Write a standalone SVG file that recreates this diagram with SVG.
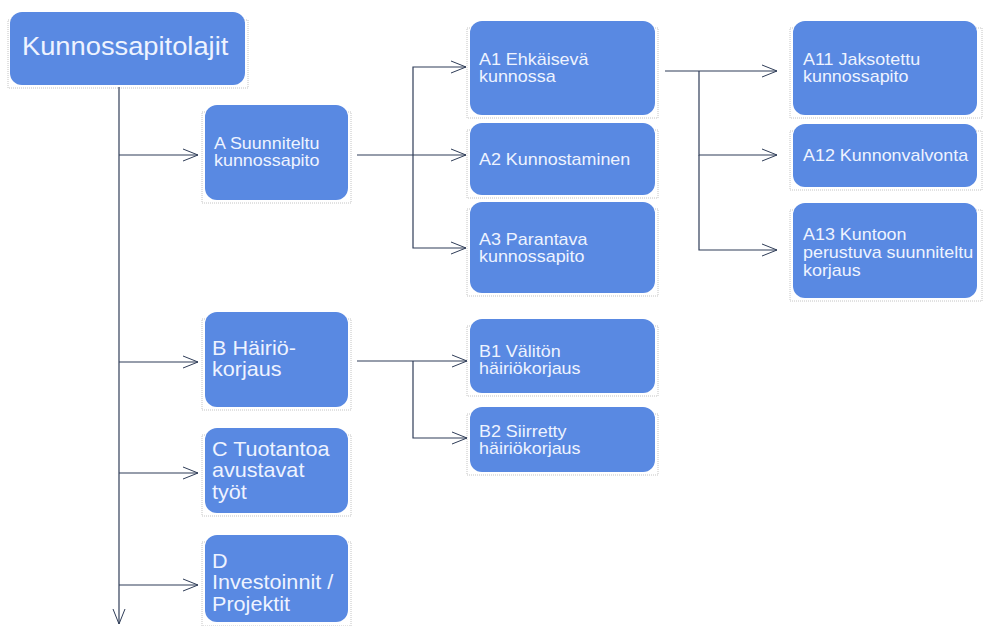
<svg xmlns="http://www.w3.org/2000/svg" width="985" height="626" viewBox="0 0 985 626">
<defs>
<marker id="arr" markerUnits="userSpaceOnUse" markerWidth="18" markerHeight="14" refX="15" refY="6" orient="auto" overflow="visible">
<path d="M0,0 L15,6 L0,12" fill="none" stroke="#2f3d58" stroke-width="1"/>
</marker>
</defs>
<style>
.box{fill:#5989e2;}
.frame{fill:none;stroke:#c4c4c4;stroke-width:1;stroke-dasharray:1 1;}
.t{fill:#eef3ff;font-family:"Liberation Sans",Arial,sans-serif;}
.s{font-size:16px;}
.m{font-size:20px;}
.l{font-size:26px;}
.c{fill:none;stroke:#2f3d58;stroke-width:1.2;}
</style>
<rect width="985" height="626" fill="#ffffff"/>
<g id="frames">
<rect class="frame" x="8" y="20" width="240" height="68"/>
<rect class="frame" x="202" y="112" width="149" height="91"/>
<rect class="frame" x="467" y="28" width="191" height="90"/>
<rect class="frame" x="467" y="130" width="191" height="68"/>
<rect class="frame" x="467" y="209" width="191" height="87"/>
<rect class="frame" x="790" y="28" width="192" height="90"/>
<rect class="frame" x="790" y="131" width="192" height="59"/>
<rect class="frame" x="790" y="210" width="192" height="91"/>
<rect class="frame" x="202" y="319" width="149" height="91"/>
<rect class="frame" x="202" y="435" width="149" height="81"/>
<rect class="frame" x="202" y="542" width="149" height="84"/>
<rect class="frame" x="467" y="326" width="191" height="70"/>
<rect class="frame" x="467" y="414" width="191" height="61"/>
</g>
<g id="connectors">
<path class="c" d="M119,87 V624" marker-end="url(#arr)"/>
<path class="c" d="M119,155 H198" marker-end="url(#arr)"/>
<path class="c" d="M119,362 H198" marker-end="url(#arr)"/>
<path class="c" d="M119,473 H198" marker-end="url(#arr)"/>
<path class="c" d="M119,585 H198" marker-end="url(#arr)"/>
<path class="c" d="M357,155 H466" marker-end="url(#arr)"/>
<path class="c" d="M413,155 V67 H466" marker-end="url(#arr)"/>
<path class="c" d="M413,155 V248 H466" marker-end="url(#arr)"/>
<path class="c" d="M665,71 H777" marker-end="url(#arr)"/>
<path class="c" d="M699,71 V155 H777" marker-end="url(#arr)"/>
<path class="c" d="M699,155 V250 H777" marker-end="url(#arr)"/>
<path class="c" d="M357,361 H467" marker-end="url(#arr)"/>
<path class="c" d="M413,361 V438 H467" marker-end="url(#arr)"/>
</g>
<g id="root">
<rect class="box" x="10" y="12" width="235" height="73" rx="12"/>
<g transform="translate(22,0) scale(1.05,1)"><text class="t l" x="0" y="55">Kunnossapitolajit</text></g>
</g>
<g id="A">
<rect class="box" x="205" y="105" width="143" height="95" rx="12"/>
<g transform="translate(214,0) scale(1.12,1)">
<text class="t s" x="0" y="149">A Suunniteltu</text>
<text class="t s" x="0" y="166.5">kunnossapito</text>
</g>
</g>
<g id="A1">
<rect class="box" x="470" y="21" width="185" height="94" rx="12"/>
<g transform="translate(479,0) scale(1.12,1)">
<text class="t s" x="0" y="65">A1 Ehkäisevä</text>
<text class="t s" x="0" y="82.5">kunnossa</text>
</g>
</g>
<g id="A2">
<rect class="box" x="470" y="123" width="185" height="72" rx="12"/>
<g transform="translate(479,0) scale(1.12,1)">
<text class="t s" x="0" y="165">A2 Kunnostaminen</text>
</g>
</g>
<g id="A3">
<rect class="box" x="470" y="202" width="185" height="91" rx="12"/>
<g transform="translate(479,0) scale(1.12,1)">
<text class="t s" x="0" y="245">A3 Parantava</text>
<text class="t s" x="0" y="262.5">kunnossapito</text>
</g>
</g>
<g id="A11">
<rect class="box" x="793" y="21" width="184" height="94" rx="12"/>
<g transform="translate(803,0) scale(1.12,1)">
<text class="t s" x="0" y="65">A11 Jaksotettu</text>
<text class="t s" x="0" y="82.5">kunnossapito</text>
</g>
</g>
<g id="A12">
<rect class="box" x="793" y="124" width="184" height="63" rx="12"/>
<g transform="translate(803,0) scale(1.12,1)">
<text class="t s" x="0" y="161">A12 Kunnonvalvonta</text>
</g>
</g>
<g id="A13">
<rect class="box" x="793" y="203" width="184" height="95" rx="12"/>
<g transform="translate(803,0) scale(1.12,1)">
<text class="t s" x="0" y="240">A13 Kuntoon</text>
<text class="t s" x="0" y="258">perustuva suunniteltu</text>
<text class="t s" x="0" y="276">korjaus</text>
</g>
</g>
<g id="B">
<rect class="box" x="205" y="312" width="143" height="95" rx="12"/>
<g transform="translate(212,0) scale(1.08,1)">
<text class="t m" x="0" y="355">B Häiriö-</text>
<text class="t m" x="0" y="376.5">korjaus</text>
</g>
</g>
<g id="C">
<rect class="box" x="205" y="428" width="143" height="85" rx="12"/>
<g transform="translate(212,0) scale(1.08,1)">
<text class="t m" x="0" y="456">C Tuotantoa</text>
<text class="t m" x="0" y="477.5">avustavat</text>
<text class="t m" x="0" y="499">työt</text>
</g>
</g>
<g id="D">
<rect class="box" x="205" y="535" width="143" height="87" rx="12"/>
<g transform="translate(212,0) scale(1.08,1)">
<text class="t m" x="0" y="568">D</text>
<text class="t m" x="0" y="589.5">Investoinnit /</text>
<text class="t m" x="0" y="611">Projektit</text>
</g>
</g>
<g id="B1">
<rect class="box" x="470" y="319" width="185" height="74" rx="12"/>
<g transform="translate(479,0) scale(1.12,1)">
<text class="t s" x="0" y="357">B1 Välitön</text>
<text class="t s" x="0" y="374.5">häiriökorjaus</text>
</g>
</g>
<g id="B2">
<rect class="box" x="470" y="407" width="185" height="65" rx="12"/>
<g transform="translate(479,0) scale(1.12,1)">
<text class="t s" x="0" y="437">B2 Siirretty</text>
<text class="t s" x="0" y="454.5">häiriökorjaus</text>
</g>
</g>
</svg>
